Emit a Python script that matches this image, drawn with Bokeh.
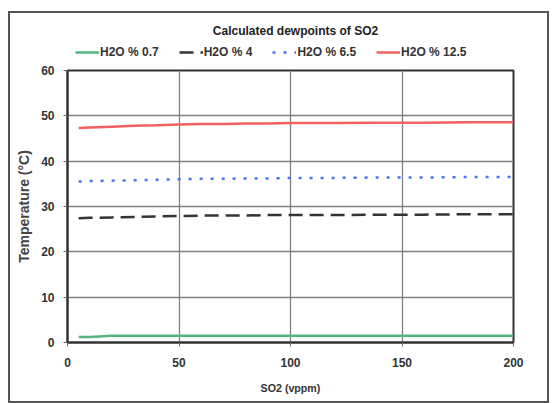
from bokeh.plotting import figure
from bokeh.models import Legend, LegendItem, Range1d, FixedTicker, Label, Column
from bokeh.embed import file_html
from bokeh.resources import INLINE

so2 = [5, 10, 20, 30, 40, 50, 60, 70, 80, 90, 100, 120, 140, 160, 180, 200]
h2o_07 = [1.2, 1.2, 1.5, 1.5, 1.5, 1.5, 1.5, 1.5, 1.5, 1.5, 1.5, 1.5, 1.5, 1.5, 1.5, 1.5]
h2o_4 = [27.4, 27.5, 27.6, 27.7, 27.8, 27.9, 28.0, 28.0, 28.0, 28.1, 28.1, 28.1, 28.2, 28.2, 28.3, 28.3]
h2o_65 = [35.5, 35.6, 35.7, 35.8, 35.9, 36.0, 36.1, 36.1, 36.2, 36.2, 36.3, 36.3, 36.4, 36.4, 36.5, 36.5]
h2o_125 = [47.3, 47.4, 47.6, 47.8, 47.9, 48.1, 48.2, 48.2, 48.3, 48.3, 48.4, 48.4, 48.5, 48.5, 48.6, 48.6]
series_names = ["H2O % 0.7", "H2O % 4", "H2O % 6.5", "H2O % 12.5"]
series_values = [h2o_07, h2o_4, h2o_65, h2o_125]
x_ticks = [0, 50, 100, 150, 200]
y_ticks = [0, 10, 20, 30, 40, 50, 60]
title_text = "Calculated dewpoints of SO2"

FONT = "Liberation Sans"
styles = [dict(line_color="#55b581", line_width=2.5),
          dict(line_color="#333333", line_width=2.5, line_dash="14 7"),
          dict(line_color="#4a73f0", line_width=2.5, line_dash="3 8"),
          dict(line_color="#f26060", line_width=2.5)]

# ---- main chart ----
p = figure(width=537, height=339, output_backend="svg", toolbar_location=None,
           x_range=Range1d(0, 200), y_range=Range1d(0, 60),
           min_border_left=57, min_border_right=34, min_border_top=8, min_border_bottom=59)

p.outline_line_color = "#333333"
p.outline_line_width = 2

for ax in (p.xaxis[0], p.yaxis[0]):
    ax.major_label_text_font = FONT
    ax.major_label_text_font_size = "9pt"
    ax.major_label_text_font_style = "bold"
    ax.major_label_text_color = "#333333"
    ax.axis_label_text_font = FONT
    ax.axis_label_text_font_size = "8pt"
    ax.axis_label_text_font_style = "bold"
    ax.axis_label_text_color = "#333333"
    ax.minor_tick_line_color = None
    ax.axis_line_color = "#333333"
    ax.axis_line_width = 2
    ax.major_tick_line_color = "#666666"
    ax.major_tick_out = 4
    ax.major_tick_in = 0

p.xaxis.ticker = FixedTicker(ticks=x_ticks)
p.yaxis.ticker = FixedTicker(ticks=y_ticks)
p.xaxis.axis_label = "SO2 (vppm)"
p.yaxis.axis_label = "Temperature (\u00b0C)"
p.yaxis.axis_label_text_font_size = "10.5pt"
p.yaxis.axis_label_text_color = "#444444"
p.xaxis.major_label_standoff = 11
p.xaxis.axis_label_standoff = 12
p.yaxis.major_label_standoff = 9
p.yaxis.axis_label_standoff = 6

p.xgrid.grid_line_color = "#808080"
p.ygrid.grid_line_color = "#808080"
p.xgrid.grid_line_width = 1.3
p.ygrid.grid_line_width = 1.3

for vals, st in zip(series_values, styles):
    p.line(so2, vals, **st)

# ---- header with title and legend (frame aligned with the chart's frame) ----
h = figure(width=537, height=49, output_backend="svg", toolbar_location=None,
           x_range=Range1d(0, 1), y_range=Range1d(0, 1),
           x_axis_location=None, y_axis_location=None, min_border=0)
h.outline_line_color = None
h.xgrid.visible = False
h.ygrid.visible = False
hr = [h.line(so2, vals, **st) for vals, st in zip(series_values, styles)]

h.add_layout(Label(x=228, y=32, x_units="screen", y_units="screen", text=title_text,
                   text_align="center", text_baseline="middle", text_font=FONT,
                   text_font_size="9pt", text_font_style="bold", text_color="#222222"))

legend = Legend(items=[LegendItem(label=n, renderers=[r]) for n, r in zip(series_names, hr)],
                orientation="horizontal", location=(8, 3),
                label_text_font=FONT, label_text_font_size="9pt", label_text_font_style="bold",
                label_text_color="#333333", border_line_color=None, background_fill_alpha=0,
                glyph_width=24, glyph_height=12, label_height=12, label_standoff=1,
                spacing=20, padding=0, margin=0)
h.add_layout(legend)

layout = Column(h, p, spacing=0, margin=(11, 0, 0, 8),
                styles={"border": "2px solid #555555"})

open("out.html", "w").write(file_html(layout, INLINE))
